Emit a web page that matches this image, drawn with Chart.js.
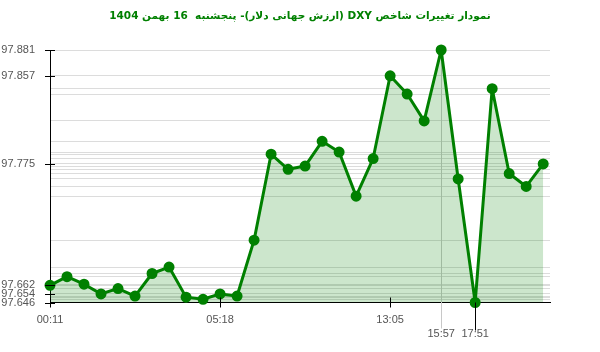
<!DOCTYPE html>
<html>
<head>
<meta charset="utf-8">
<script src="https://cdn.jsdelivr.net/npm/chart.js@4.4.1/dist/chart.umd.min.js"></script>
<style>
  body { margin: 0; background: #fff; }
</style>
</head>
<body>
<canvas id="dxy-chart" width="600" height="352" dir="rtl"></canvas>
<script>
const chartTitle = 'نمودار تغییرات شاخص DXY (ارزش جهانی دلار)- پنجشنبه  16 بهمن 1404';

// one value per point, left to right
const dxyValues = [97.662, 97.670, 97.663, 97.654, 97.659, 97.652, 97.673, 97.679, 97.651, 97.649,
	97.654, 97.652, 97.704, 97.784, 97.770, 97.773, 97.796, 97.786, 97.745, 97.780,
	97.857, 97.840, 97.815, 97.881, 97.761, 97.646, 97.845, 97.766, 97.754, 97.775];

// x labels and the point index they sit under
const timeTickIndex = [0, 10, 20, 23, 25];
const timeTickLabels = ['00:11', '05:18', '13:05', '15:57', '17:51'];

// y values that get a printed label
const priceTickLabels = [97.881, 97.857, 97.775, 97.662, 97.654, 97.646];

const maxIndex = 23;
const minIndex = 25;

const guideLines = {
	id: 'guideLines',
	beforeDatasetsDraw(chart) {
		const { ctx, scales: { x, y } } = chart;
		const px = Math.round(x.getPixelForValue(maxIndex)) + 0.5;
		ctx.save();
		ctx.strokeStyle = '#c8c8c8';
		ctx.lineWidth = 1;
		ctx.beginPath();
		ctx.moveTo(px, y.top);
		ctx.lineTo(px, y.bottom + 26);
		ctx.stroke();
		ctx.restore();
	},
	afterDraw(chart) {
		const { ctx, scales: { x, y } } = chart;
		ctx.save();
		ctx.strokeStyle = '#000';
		ctx.lineWidth = 1;
		ctx.beginPath();
		priceTickLabels.forEach(v => {
			const py = Math.round(y.getPixelForValue(v)) + 0.5;
			ctx.moveTo(x.left - 5, py);
			ctx.lineTo(x.left + 5, py);
		});
		[0, 10, 20].forEach(i => {
			const px = Math.round(x.getPixelForValue(i)) + 0.5;
			ctx.moveTo(px, y.bottom - 5);
			ctx.lineTo(px, y.bottom + 5);
		});
		const mx = Math.round(x.getPixelForValue(minIndex)) + 0.5;
		ctx.moveTo(mx, y.getPixelForValue(dxyValues[minIndex]));
		ctx.lineTo(mx, y.bottom + 28);
		ctx.stroke();
		ctx.restore();
	}
};

const gridValues = Array.from(new Set(dxyValues)).sort((a, b) => a - b);

new Chart(document.getElementById('dxy-chart').getContext('2d'), {
	type: 'line',
	data: {
		datasets: [{
			data: dxyValues.map((v, i) => ({ x: i, y: v })),
			borderColor: 'rgb(0, 128, 0)',
			backgroundColor: 'rgba(0, 128, 0, 0.2)',
			pointBackgroundColor: 'rgb(0, 128, 0)',
			pointBorderColor: 'rgb(0, 128, 0)',
			pointRadius: 4,
			borderWidth: 3,
			borderJoinStyle: 'round',
			tension: 0,
			fill: 'start',
			clip: false
		}]
	},
	options: {
		responsive: false,
		animation: false,
		layout: { padding: 0 },
		plugins: {
			legend: { display: false },
			tooltip: { enabled: false },
			title: {
				display: true,
				text: chartTitle,
				color: 'rgb(0, 128, 0)',
				font: { family: 'DejaVu Sans', size: 10.5, weight: 'bold', lineHeight: 1.2 },
				padding: { top: 10, bottom: 27.4 }
			}
		},
		scales: {
			x: {
				type: 'linear',
				min: 0,
				max: 29.4,
				afterBuildTicks: scale => {
					scale.ticks = timeTickIndex.map(i => ({ value: i }));
				},
				afterFit: scale => { scale.height = 49.5; },
				grid: { display: false },
				border: { color: '#000' },
				ticks: {
					autoSkip: false,
					maxRotation: 0,
					padding: 2,
					color: '#555',
					font: { family: 'Liberation Sans', size: 11, lineHeight: 1.3 },
					callback: value => {
						const k = timeTickIndex.indexOf(value);
						if (k < 0) return '';
						return k >= 3 ? ['', timeTickLabels[k]] : timeTickLabels[k];
					}
				}
			},
			y: {
				min: 97.646,
				max: 97.881,
				afterBuildTicks: scale => {
					scale.ticks = gridValues.map(v => ({ value: v }));
				},
				afterFit: scale => { scale.width = 50; },
				grid: { color: '#dcdcdc', drawTicks: false },
				border: { color: '#000' },
				ticks: {
					autoSkip: false,
					padding: 15,
					color: '#555',
					font: { family: 'Liberation Sans', size: 11 },
					callback: value => priceTickLabels.includes(value) ? value.toFixed(3) : ''
				}
			},
			// empty right-hand strip, keeps the title centred on the canvas
			yRight: {
				position: 'right',
				afterFit: scale => { scale.width = 50; },
				grid: { display: false, drawTicks: false },
				border: { display: false },
				ticks: { display: false }
			}
		}
	},
	plugins: [guideLines]
});
</script>
</body>
</html>
